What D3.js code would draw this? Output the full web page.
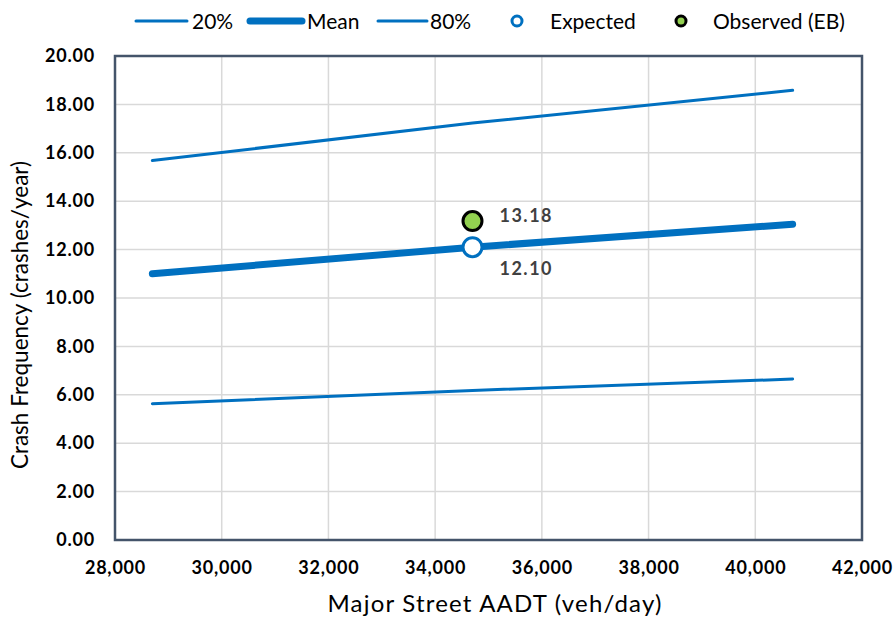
<!DOCTYPE html>
<html><head><meta charset="utf-8">
<script src="https://cdn.jsdelivr.net/npm/d3@7"></script>
<style>body{margin:0;background:#fff;} svg{display:block;font-family:Lato,"Open Sans",sans-serif;}</style>
</head><body>
<svg id="c" width="893" height="617"></svg>
<script>
const aadt = [28700, 34700, 40700];
const p20 = [5.63, 6.18, 6.65];
const mean = [11.0, 12.10, 13.05];
const p80 = [15.68, 17.23, 18.58];
const pointX = [34700];
const expected = [12.10];
const observed = [13.18];
const xTicks = [28000, 30000, 32000, 34000, 36000, 38000, 40000, 42000];
const yTicks = [0, 2, 4, 6, 8, 10, 12, 14, 16, 18, 20];

const blue = "#0070c0";
const svg = d3.select("#c");
const L = 115, R = 862, T = 56, B = 540;
const x = d3.scaleLinear().domain([28000, 42000]).range([L, R]);
const y = d3.scaleLinear().domain([0, 20]).range([B, T]);

// grid
svg.append("g").selectAll("line").data(yTicks.slice(1)).join("line")
  .attr("x1", L).attr("x2", R).attr("y1", d => y(d)).attr("y2", d => y(d))
  .attr("stroke", "#d9d9d9").attr("stroke-width", 1.5);
svg.append("g").selectAll("line").data(xTicks.slice(1, -1)).join("line")
  .attr("y1", T).attr("y2", B).attr("x1", d => x(d)).attr("x2", d => x(d))
  .attr("stroke", "#d9d9d9").attr("stroke-width", 1.5);

// axes labels
const xa = svg.append("g").attr("transform", `translate(0,${B})`)
  .call(d3.axisBottom(x).tickValues(xTicks).tickSize(0).tickPadding(21).tickFormat(d3.format(",")));
xa.select(".domain").remove();
xa.selectAll("text").attr("font-size", 18).attr("font-weight", "bold").attr("fill", "#000")
  .attr("font-family", "Lato, sans-serif").attr("letter-spacing", 0.8);
const ya = svg.append("g").attr("transform", `translate(${L},0)`)
  .call(d3.axisLeft(y).tickValues(yTicks).tickSize(0).tickPadding(20).tickFormat(d3.format(".2f")));
ya.select(".domain").remove();
ya.selectAll("text").attr("font-size", 18).attr("font-weight", "bold").attr("fill", "#000")
  .attr("font-family", "Lato, sans-serif").attr("letter-spacing", 0.8);

// frame
svg.append("rect").attr("x", L).attr("y", T).attr("width", R - L).attr("height", B - T)
  .attr("fill", "none").attr("stroke", "#44546a").attr("stroke-width", 2.5);

// lines
const line = d3.line().x((d, i) => x(aadt[i])).y(d => y(d));
svg.append("path").attr("d", line(p20)).attr("fill", "none").attr("stroke", blue).attr("stroke-width", 3).attr("stroke-linecap", "round");
svg.append("path").attr("d", line(p80)).attr("fill", "none").attr("stroke", blue).attr("stroke-width", 3).attr("stroke-linecap", "round");
svg.append("path").attr("d", line(mean)).attr("fill", "none").attr("stroke", blue).attr("stroke-width", 7).attr("stroke-linecap", "round");

// points
svg.append("g").selectAll("circle").data(observed).join("circle")
  .attr("cx", (d, i) => x(pointX[i])).attr("cy", d => y(d)).attr("r", 9.5)
  .attr("fill", "#92d050").attr("stroke", "#000").attr("stroke-width", 3);
svg.append("g").selectAll("circle").data(expected).join("circle")
  .attr("cx", (d, i) => x(pointX[i])).attr("cy", d => y(d)).attr("r", 9.5)
  .attr("fill", "#fff").attr("stroke", blue).attr("stroke-width", 3);

// data labels
svg.append("g").selectAll("text").data(observed).join("text")
  .attr("x", (d, i) => x(pointX[i]) + 27).attr("y", d => y(d) + 1)
  .text(d => d.toFixed(2)).attr("font-size", 18).attr("font-weight", "bold").attr("fill", "#404040").attr("letter-spacing", 1.5);
svg.append("g").selectAll("text").data(expected).join("text")
  .attr("x", (d, i) => x(pointX[i]) + 27).attr("y", d => y(d) + 28)
  .text(d => d.toFixed(2)).attr("font-size", 18).attr("font-weight", "bold").attr("fill", "#404040").attr("letter-spacing", 1.5);

// axis titles
svg.append("text").attr("x", 495).attr("y", 612).attr("text-anchor", "middle")
  .attr("font-size", 24).attr("letter-spacing", 1.2).attr("fill", "#000").text("Major Street AADT (veh/day)");
svg.append("text").attr("transform", `translate(28,${(T + B) / 2 + 17}) rotate(-90)`).attr("text-anchor", "middle")
  .attr("font-size", 22.5).attr("fill", "#000").text("Crash Frequency (crashes/year)");

// legend
const lg = svg.append("g").attr("font-size", 21).attr("fill", "#000");
const ly = 21;
const legLines = [
  {x1: 136, x2: 187, w: 3, t: "20%", tx: 192},
  {x1: 250, x2: 302, w: 7, t: "Mean", tx: 307},
  {x1: 378, x2: 427, w: 3, t: "80%", tx: 430}
];
legLines.forEach(l => {
  lg.append("line").attr("x1", l.x1).attr("x2", l.x2).attr("y1", ly).attr("y2", ly)
    .attr("stroke", blue).attr("stroke-width", l.w).attr("stroke-linecap", "round");
  lg.append("text").attr("x", l.tx).attr("y", ly + 8).text(l.t);
});
lg.append("circle").attr("cx", 517).attr("cy", ly).attr("r", 5).attr("fill", "#fff").attr("stroke", blue).attr("stroke-width", 3);
lg.append("text").attr("x", 550).attr("y", ly + 8).text("Expected");
lg.append("circle").attr("cx", 681).attr("cy", ly).attr("r", 5).attr("fill", "#92d050").attr("stroke", "#000").attr("stroke-width", 3);
lg.append("text").attr("x", 713).attr("y", ly + 8).text("Observed (EB)");
</script>
</body></html>
